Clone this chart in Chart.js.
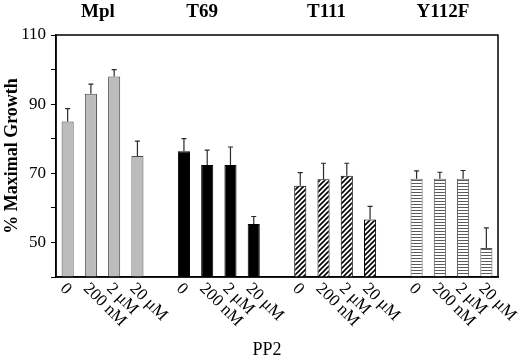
<!DOCTYPE html>
<html>
<head>
<meta charset="utf-8">
<script src="https://cdn.jsdelivr.net/npm/chart.js@4"></script>
<style>
html, body { margin: 0; padding: 0; background: #fff; }
#wrap { width: 520px; height: 358px; }
</style>
</head>
<body>
<div id="wrap"><canvas id="grafico"></canvas></div>
<script>
// Dados
const grupos = ['Mpl', 'T69', 'T111', 'Y112F'];
const doses = ['0', '200 nM', '2 μM', '20 μM'];
const mplVals = [85, 93, 98, 75];
const mplErr = [3.7, 2.8, 2.0, 4.3];
const t69Vals = [76.4, 72.4, 72.4, 55.3];
const t69Err = [3.6, 4.3, 5.2, 2.2];
const t111Vals = [66.4, 68.3, 69.3, 56.6];
const t111Err = [3.8, 4.6, 3.6, 3.8];
const y112fVals = [68.4, 68.4, 68.4, 48.4];
const y112fErr = [2.3, 1.9, 2.4, 5.8];
const yTicks = [50, 70, 90, 110];

const serif = "'Liberation Serif', 'Times New Roman', serif";

// Rotulos do eixo x: 4 doses por grupo, com uma posicao vazia entre grupos
const labels = [];
grupos.forEach((g, gi) => {
    doses.forEach(d => labels.push(d));
    if (gi < grupos.length - 1) labels.push('');
});

function serie(vals, gi) {
    const arr = labels.map(() => null);
    vals.forEach((v, j) => { arr[gi * 5 + j] = v; });
    return arr;
}

// Padroes de preenchimento
function hachuraDiagonal() {
    const c = document.createElement('canvas');
    c.width = 5; c.height = 5;
    const g = c.getContext('2d');
    g.fillStyle = '#fff';
    g.fillRect(0, 0, 5, 5);
    g.strokeStyle = '#000';
    g.lineWidth = 1.6;
    g.beginPath();
    g.moveTo(-1, 6); g.lineTo(6, -1);
    g.moveTo(-1, 1); g.lineTo(1, -1);
    g.moveTo(4, 6); g.lineTo(6, 4);
    g.stroke();
    return g.createPattern(c, 'repeat');
}

function listrasHorizontais() {
    const c = document.createElement('canvas');
    c.width = 3; c.height = 3;
    const g = c.getContext('2d');
    g.fillStyle = '#fff';
    g.fillRect(0, 0, 3, 3);
    g.fillStyle = '#5a5a5a';
    g.fillRect(0, 0, 3, 1);
    return g.createPattern(c, 'repeat');
}

const erros = [mplErr, t69Err, t111Err, y112fErr];

// Barras de erro, moldura e textos
const extras = {
    id: 'extras',
    afterDatasetsDraw(chart) {
        const ctx = chart.ctx;
        const xs = chart.scales.x;
        const ys = chart.scales.y;
        const area = chart.chartArea;

        ctx.save();
        ctx.strokeStyle = '#2a2a2a';
        ctx.lineWidth = 1.2;
        chart.data.datasets.forEach((ds, di) => {
            const meta = chart.getDatasetMeta(di);
            meta.data.forEach((el, i) => {
                const v = ds.data[i];
                if (v === null) return;
                const e = erros[di][i - di * 5];
                const yTop = ys.getPixelForValue(v + e);
                ctx.beginPath();
                ctx.moveTo(el.x, el.y);
                ctx.lineTo(el.x, yTop);
                ctx.moveTo(el.x - 2.5, yTop);
                ctx.lineTo(el.x + 2.5, yTop);
                ctx.stroke();
            });
        });

        // moldura
        ctx.strokeStyle = '#000';
        ctx.lineWidth = 1.5;
        ctx.strokeRect(area.left, area.top, area.right - area.left, area.bottom - area.top);

        // titulos dos grupos
        const desloc = [7, -5, 3, 3];
        ctx.fillStyle = '#000';
        ctx.font = 'bold 19px ' + serif;
        ctx.textAlign = 'center';
        ctx.textBaseline = 'alphabetic';
        grupos.forEach((g, gi) => {
            const x = xs.getPixelForValue(gi * 5 + 1) + desloc[gi];
            ctx.fillText(g, x, 17);
        });

        // rotulos das doses, inclinados
        ctx.font = '17px ' + serif;
        ctx.textAlign = 'left';
        ctx.textBaseline = 'middle';
        labels.forEach((l, i) => {
            if (!l) return;
            const x = xs.getPixelForValue(i);
            ctx.save();
            ctx.translate(x - 5, area.bottom + 9);
            ctx.rotate(Math.PI / 4);
            ctx.fillText(l, 0, 0);
            ctx.restore();
        });

        // titulo do eixo x
        ctx.font = '18px ' + serif;
        ctx.textAlign = 'center';
        ctx.textBaseline = 'alphabetic';
        ctx.fillText('PP2', (area.left + area.right) / 2 - 10, 355);
        ctx.restore();
    }
};

const ctx = document.getElementById('grafico').getContext('2d');
const grafico = new Chart(ctx, {
    type: 'bar',
    data: {
        labels: labels,
        datasets: [
            { label: 'Mpl', data: serie(mplVals, 0), backgroundColor: '#bcbcbc', borderColor: '#4a4a4a', borderWidth: 1 },
            { label: 'T69', data: serie(t69Vals, 1), backgroundColor: '#000', borderColor: '#000', borderWidth: 1 },
            { label: 'T111', data: serie(t111Vals, 2), backgroundColor: hachuraDiagonal(), borderColor: '#000', borderWidth: 1 },
            { label: 'Y112F', data: serie(y112fVals, 3), backgroundColor: listrasHorizontais(), borderColor: '#555', borderWidth: 1 }
        ]
    },
    options: {
        responsive: true,
        maintainAspectRatio: false,
        animation: false,
        layout: { padding: { top: 35, right: 22, left: 0, bottom: 0 } },
        datasets: { bar: { grouped: false, barPercentage: 0.52, categoryPercentage: 1 } },
        plugins: { legend: { display: false }, tooltip: { enabled: false } },
        scales: {
            x: {
                offset: true,
                grid: { display: false },
                border: { display: true, color: '#000', width: 1.5 },
                ticks: { display: false },
                afterFit(s) { s.height = 81; }
            },
            y: {
                min: 40,
                max: 110,
                ticks: {
                    stepSize: 10,
                    color: '#000',
                    padding: 5,
                    font: { family: serif, size: 17 },
                    callback: v => yTicks.includes(v) ? v : ''
                },
                grid: { drawOnChartArea: false, drawTicks: true, tickLength: 5, color: '#000' },
                border: { display: true, color: '#000', width: 1.5 },
                title: {
                    display: true,
                    text: '% Maximal Growth',
                    color: '#000',
                    font: { family: serif, size: 18, weight: 'bold' },
                    padding: { top: 2, bottom: 0 }
                },
                afterFit(s) { s.width = 56; }
            }
        }
    },
    plugins: [extras]
});
</script>
</body>
</html>
